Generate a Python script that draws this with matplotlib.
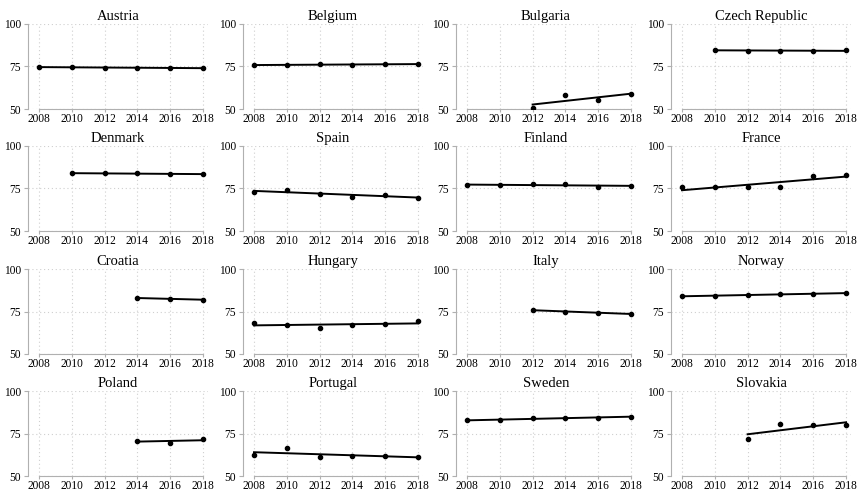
import numpy as np
import matplotlib
matplotlib.use("Agg")
from matplotlib import pyplot as plt

plt.rcParams['font.family'] = ['Liberation Serif', 'DejaVu Serif']

years = [2008, 2010, 2012, 2014, 2016, 2018]

countries = ['Austria', 'Belgium', 'Bulgaria', 'Czech Republic',
             'Denmark', 'Spain', 'Finland', 'France',
             'Croatia', 'Hungary', 'Italy', 'Norway',
             'Poland', 'Portugal', 'Sweden', 'Slovakia']

# None = no observation for that year
austria = [74.8, 74.5, 74.4, 74.0, 74.0, 74.3]
belgium = [75.8, 76.0, 76.2, 76.0, 76.4, 76.4]
bulgaria = [None, None, 50.8, 58.3, 55.3, 58.9]
czech = [None, 84.8, 84.4, 84.0, 84.0, 84.6]
denmark = [None, 83.9, 83.9, 83.9, 83.7, 83.3]
spain = [73.2, 74.0, 71.7, 69.9, 71.3, 69.7]
finland = [77.0, 76.8, 77.8, 77.6, 75.8, 76.6]
france = [75.8, 75.6, 75.6, 75.6, 82.5, 82.9]
croatia = [None, None, None, 82.9, 82.5, 81.9]
hungary = [68.5, 66.9, 65.2, 66.9, 67.7, 69.3]
italy = [None, None, 75.8, 75.0, 74.2, 73.6]
norway = [83.9, 84.4, 84.6, 85.2, 85.4, 85.8]
poland = [None, None, None, 70.7, 69.7, 71.5]
portugal = [62.6, 66.5, 61.2, 61.8, 61.6, 61.2]
sweden = [82.7, 82.7, 84.3, 84.1, 84.3, 84.8]
slovakia = [None, None, 72.0, 80.3, 80.1, 79.9]

series = [austria, belgium, bulgaria, czech, denmark, spain, finland, france,
          croatia, hungary, italy, norway, poland, portugal, sweden, slovakia]

fig = plt.figure(figsize=(8.58, 4.94), dpi=100)

lefts = [28, 243, 456, 671]
tops = [24, 146, 269, 391]
w_px, h_px = 180, 85

for idx, (name, vals) in enumerate(zip(countries, series)):
    r, c = divmod(idx, 4)
    ax = fig.add_axes([lefts[c] / 858, 1 - (tops[r] + h_px) / 494,
                       w_px / 858, h_px / 494])
    x = np.array([y for y, v in zip(years, vals) if v is not None], float)
    y = np.array([v for v in vals if v is not None], float)

    ax.set_xlim(2007.33, 2018.3)
    ax.set_ylim(50, 100)
    ax.set_xticks(years)
    ax.set_yticks([50, 75, 100])
    ax.grid(True, linestyle=(0, (1, 2.5)), color='#cfcfcf', linewidth=0.8)
    ax.set_axisbelow(True)

    # linear fit line through the observed points
    k, b = np.polyfit(x, y, 1)
    ax.plot(x, k * x + b, color='black', linewidth=1.4, zorder=3)
    ax.scatter(x, y, s=9, color='black', zorder=4)

    for s in ['top', 'right']:
        ax.spines[s].set_visible(False)
    ax.spines['bottom'].set_bounds(2008, 2018)
    ax.spines['left'].set_color('#b0b0b0')
    ax.spines['bottom'].set_color('#b0b0b0')
    ax.tick_params(colors='#b0b0b0', labelcolor='black', labelsize=8.3,
                   length=3, width=0.8, pad=2)
    ax.tick_params(axis='x', length=2.5, pad=0.5)
    ax.set_title(name, fontsize=10.5, pad=3)

fig.savefig('out.png', dpi=100)
